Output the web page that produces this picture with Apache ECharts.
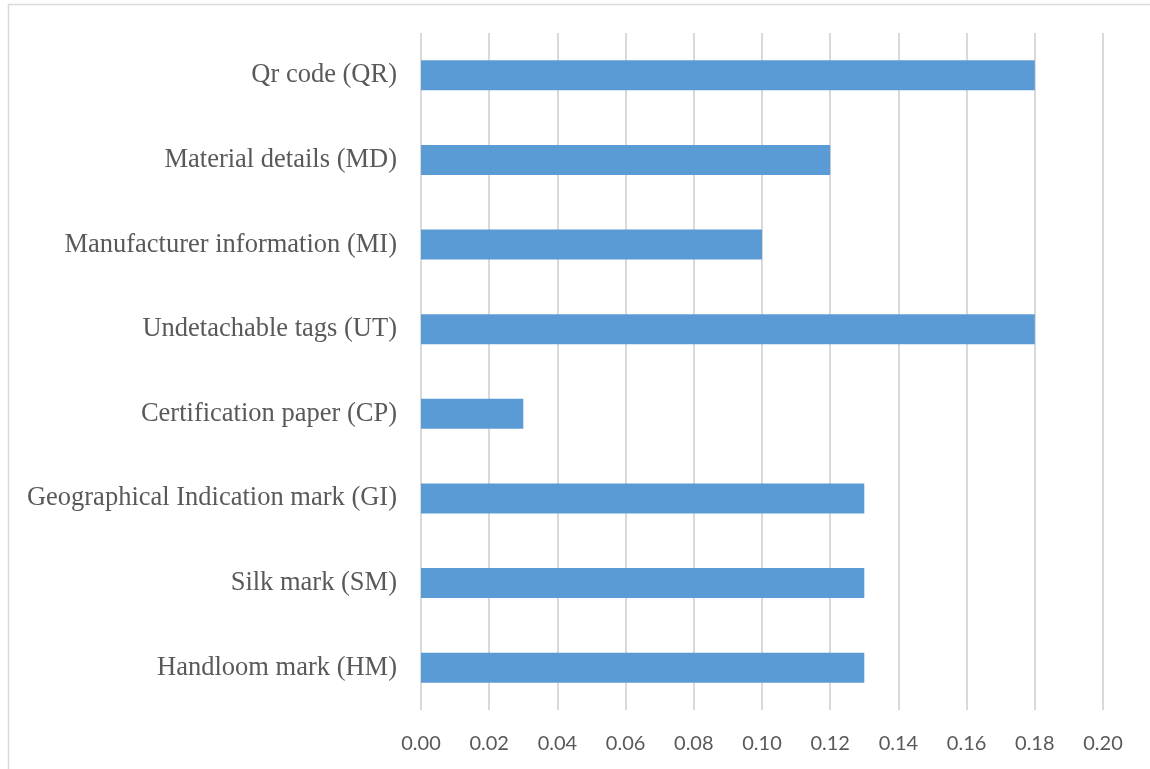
<!DOCTYPE html>
<html><head><meta charset="utf-8">
<script src="https://cdn.jsdelivr.net/npm/echarts@6/dist/echarts.min.js"></script>
<style>html,body{margin:0;padding:0;background:#fff}#c{width:1150px;height:769px}</style>
</head><body><div id="c"></div>
<script>
const categories = ["Handloom mark (HM)","Silk mark (SM)","Geographical Indication mark (GI)","Certification paper (CP)","Undetachable tags (UT)","Manufacturer information (MI)","Material details (MD)","Qr code (QR)"];
const values = [0.13,0.13,0.13,0.03,0.18,0.10,0.12,0.18];
const chart = echarts.init(document.getElementById('c'), null, {renderer:'canvas'});
chart.setOption({
  animation:false,
  backgroundColor:'#fff',
  graphic:[{type:'rect',shape:{x:8.5,y:4.5,width:1200,height:800},style:{fill:'none',stroke:'#d9d9d9',lineWidth:1.5},silent:true}],
  grid:{left:421,right:47,top:33,bottom:59,containLabel:false},
  xAxis:{type:'value',min:0,max:0.2,interval:0.02,
    axisLine:{show:false},axisTick:{show:false},
    splitLine:{show:true,lineStyle:{color:'#d9d9d9',width:2}},
    axisLabel:{formatter:v=>v.toFixed(2),color:'#595959',fontFamily:'Lato',fontSize:20,margin:24}},
  yAxis:{type:'category',data:categories,
    axisLine:{show:false},axisTick:{show:false},
    axisLabel:{color:'#595959',fontFamily:'Liberation Serif',fontSize:26.5,margin:24}},
  series:[{type:'bar',data:values,barWidth:30,itemStyle:{color:'#5b9bd5'}}]
});
</script></body></html>
